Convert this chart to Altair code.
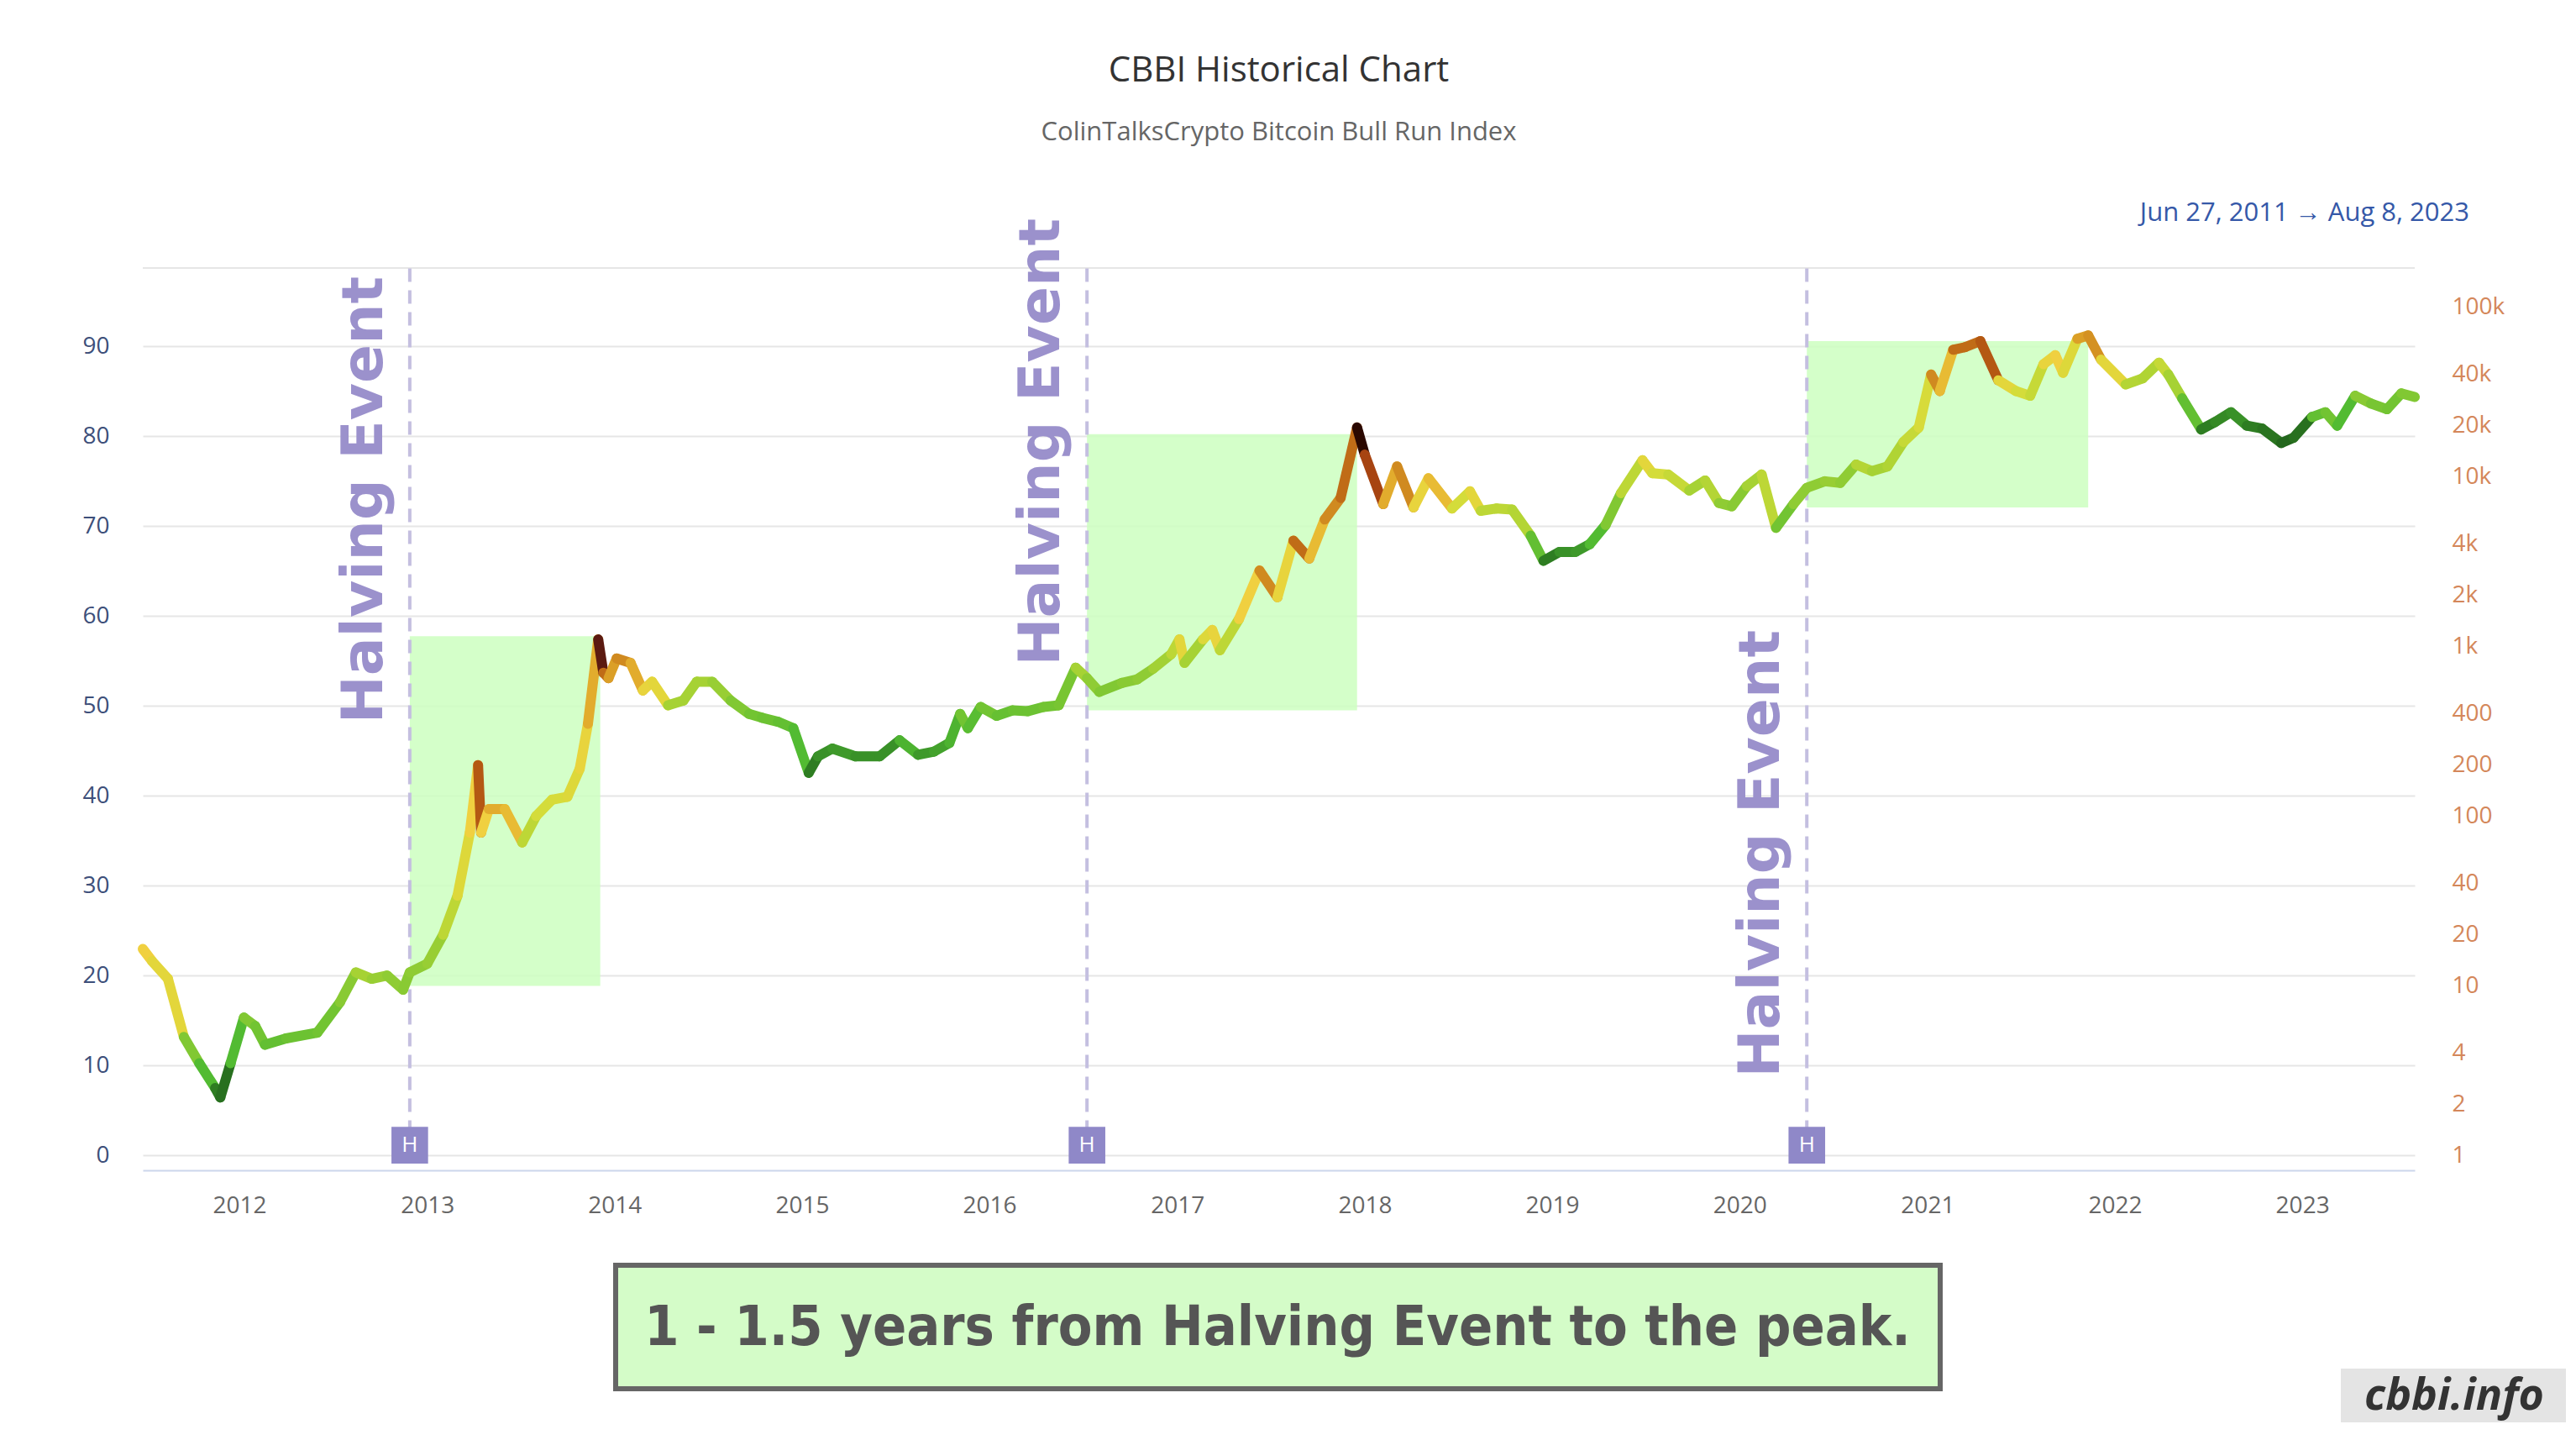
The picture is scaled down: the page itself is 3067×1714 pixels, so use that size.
import altair as alt
import pandas as pd

dates = ["2011-06-27","2011-07-15","2011-08-15","2011-09-15","2011-10-15","2011-11-15","2011-11-25","2011-12-15",
"2012-01-10","2012-02-01","2012-02-20","2012-04-01","2012-06-01","2012-07-15","2012-08-15","2012-09-15","2012-10-15","2012-11-15","2012-11-28",
"2013-01-01","2013-02-01","2013-03-01","2013-03-25","2013-04-10","2013-04-16","2013-05-01","2013-06-01","2013-07-05","2013-08-01","2013-09-01","2013-10-01","2013-10-25","2013-11-10","2013-11-30","2013-12-10","2013-12-20",
"2014-01-05","2014-02-01","2014-02-25","2014-03-15","2014-04-15","2014-05-15","2014-06-10","2014-07-10","2014-08-15","2014-09-20","2014-10-15","2014-11-15","2014-12-15",
"2015-01-14","2015-02-01","2015-03-01","2015-04-15","2015-06-01","2015-07-10","2015-08-15","2015-09-15","2015-10-15","2015-11-05","2015-11-20","2015-12-15",
"2016-01-15","2016-02-15","2016-03-15","2016-04-15","2016-05-15","2016-06-17","2016-07-09","2016-08-02","2016-09-15","2016-10-15","2016-11-15","2016-12-20",
"2017-01-05","2017-01-15","2017-02-20","2017-03-10","2017-03-25","2017-05-01","2017-06-10","2017-07-15","2017-08-15","2017-09-15","2017-10-15","2017-11-15","2017-12-17",
"2018-01-01","2018-02-06","2018-03-05","2018-04-06","2018-05-05","2018-06-20","2018-07-25","2018-08-15","2018-09-15","2018-10-15","2018-11-20","2018-12-15",
"2019-01-15","2019-02-15","2019-03-15","2019-04-15","2019-05-15","2019-06-26","2019-07-15","2019-08-15","2019-09-25","2019-10-26","2019-11-22","2019-12-17",
"2020-01-15","2020-02-13","2020-03-12","2020-04-15","2020-05-11","2020-06-15","2020-07-15","2020-08-15","2020-09-15","2020-10-15","2020-11-15","2020-12-15",
"2021-01-08","2021-01-25","2021-02-20","2021-03-15","2021-04-14","2021-05-19","2021-06-22","2021-07-20","2021-08-15","2021-09-07","2021-09-22","2021-10-20","2021-11-10","2021-12-05",
"2022-01-22","2022-02-24","2022-03-28","2022-04-15","2022-05-12","2022-06-18","2022-07-15","2022-08-15","2022-09-15","2022-10-15","2022-11-21","2022-12-15",
"2023-01-20","2023-02-15","2023-03-10","2023-04-14","2023-05-15","2023-06-15","2023-07-13","2023-08-08"]
prices = [16.5,14,11,5,3.5,2.5,2.2,3.5,
6.5,5.8,4.5,4.9,5.3,8,12,11,11.5,9.5,12,
13.5,20,34,80,200,80,110,110,70,100,125,130,190,350,1100,700,650,
850,800,550,620,450,480,620,620,480,400,380,360,330,
180,225,250,225,225,280,230,240,270,400,330,440,
390,420,415,440,450,750,650,540,610,640,740,900,
1100,800,1100,1250,950,1450,2800,1950,4200,3300,5600,7500,19500,
13500,6900,11500,6600,9800,6500,8200,6300,6500,6400,4500,3200,
3600,3600,4000,5200,8000,12500,10500,10300,8300,9500,7000,6700,
8800,10300,5000,6900,8600,9400,9200,11800,10800,11500,16000,19500,
40000,32000,56000,58000,63000,37000,32000,30000,46000,52000,41000,65000,68000,49000,
35000,38000,47000,40000,29000,19000,21000,24000,20000,19200,15800,17000,
22500,24000,20000,30000,27000,25000,31000,29500]
cbbi = [75,70,70,45,30,15,12,30,
45,40,35,38,40,48,55,52,50,48,50,
52,60,68,75,90,75,80,78,60,65,66,68,72,80,97,88,82,
85,80,72,70,55,55,55,52,45,40,38,35,30,
15,20,22,20,20,28,22,24,28,40,32,40,
36,38,38,40,42,55,50,45,48,50,54,60,
70,55,68,72,60,75,85,72,88,78,85,88,100,
92,80,85,72,78,65,70,60,60,58,35,15,
20,22,30,45,60,70,65,62,55,58,50,48,
55,60,40,50,50,52,50,58,55,57,62,66,
85,78,88,88,90,70,65,62,72,75,68,82,84,70,
58,57,62,55,35,15,18,20,15,13,10,12,
35,40,30,48,42,40,45,42]

halvings = ["2012-11-28", "2016-07-09", "2020-05-11"]
halving_text_x = ["2012-09-02", "2016-04-13", "2020-02-14"]
halving_text_y = [7300, 16000, 60]
box_start = ["2012-11-28", "2016-07-09", "2020-05-11"]
box_end = ["2013-12-04", "2017-12-17", "2021-11-10"]
box_low = [10, 420, 6600]
box_high = [1150, 17800, 63000]
right_ticks = [1,2,4,10,20,40,100,200,400,1000,2000,4000,10000,20000,40000,100000]
left_ticks = [0,10,20,30,40,50,60,70,80,90]

W, H = 2705, 1074
FONT = "Open Sans"
xdom = ["2011-06-27", "2023-08-08"]
ydom = [10 ** -0.087, 10 ** 5.23]

seg = pd.DataFrame({"d": dates, "p": prices, "c": cbbi})
seg["d2"] = seg["d"].shift(-1)
seg["p2"] = seg["p"].shift(-1)
seg = seg.dropna()

xaxis = alt.Axis(format="%Y", tickCount={"interval": "year", "step": 1}, grid=False,
                 ticks=False, domainColor="#ccd6eb", domainWidth=2, labelFontSize=28,
                 labelColor="#666666", labelFont=FONT, labelPadding=28, title=None)
X = alt.X("d:T", scale=alt.Scale(domain=xdom), axis=xaxis)
ysc = alt.Scale(type="log", domain=ydom, nice=False)
yaxis = alt.Axis(orient="right", values=right_ticks, domain=False, ticks=False, grid=False,
                 labelFontSize=28, labelColor="#d4875a", labelFont=FONT, labelPadding=44,
                 labelExpr="datum.value >= 1000 ? (datum.value/1000) + 'k' : datum.value",
                 title=None)
Y = alt.Y("p:Q", scale=ysc, axis=yaxis)
noview = alt.ViewBackground(stroke="transparent", strokeWidth=0)

cdf = pd.DataFrame({"d": ["2015-01-01"], "v": [0]})
left = alt.Chart(cdf).mark_rule(opacity=0).encode(
    x=X,
    y=alt.Y("v:Q", scale=alt.Scale(domain=[-1.65, 98.7], nice=False),
            axis=alt.Axis(values=left_ticks, orient="left", domain=False, ticks=False,
                          gridColor="#e6e6e6", gridWidth=2, labelFontSize=28, labelColor="#3d4f7a",
                          labelFont=FONT, labelPadding=40, title=None)))
topline = alt.Chart(cdf).mark_rule(color="#e6e6e6", strokeWidth=2).encode(
    x=alt.value(0), x2=alt.value(W), y=alt.value(0))

rects = alt.Chart(pd.DataFrame({"d": box_start, "d2": box_end, "p": box_low, "p2": box_high})).mark_rect(
    color="#ccffc0", opacity=0.85).encode(x=X, x2="d2:T", y=Y, y2="p2:Q")

hl = alt.Chart(pd.DataFrame({"d": halvings, "p": [1.0, 1.0, 1.0]})).mark_rule(
    color="#c4bfe0", strokeWidth=4, strokeDash=[16, 10]).encode(x=X, y=Y, y2=alt.value(0))

segs = alt.Chart(seg).mark_rule(strokeWidth=12, strokeCap="round").encode(
    x=X, x2="d2:T", y=Y, y2="p2:Q",
    color=alt.Color("c:Q", legend=None, scale=alt.Scale(
        domain=[0, 15, 30, 50, 65, 75, 85, 93, 100],
        range=["#123d12", "#2e7d22", "#52bb32", "#8fcc34", "#d4dc3a", "#f0d040", "#d08a20", "#a03a10", "#2a0800"])))

tdf = pd.DataFrame({"d": halving_text_x, "p": halving_text_y})
htext = alt.Chart(tdf).mark_text(text="Halving Event", angle=270, fontSize=68, fontWeight="bold",
                                 font="DejaVu Sans", color="#9b91cc", baseline="middle").encode(x=X, y=Y)

hdf = pd.DataFrame({"d": halvings, "p": [1.15] * 3})
hsq = alt.Chart(hdf).mark_square(size=1900, color="#8f88c8", opacity=1).encode(x=X, y=Y)
htx = alt.Chart(hdf).mark_text(text="H", color="white", fontSize=26, font=FONT, baseline="middle").encode(x=X, y=Y)

one = pd.DataFrame({"a": [0]})
def txt(t, x, y, **kw):
    return alt.Chart(one).mark_text(text=t, **kw).encode(x=alt.value(x), y=alt.value(y))

title = txt("CBBI Historical Chart", W / 2, -235, fontSize=42, font=FONT, color="#333333", baseline="middle")
sub = txt("ColinTalksCrypto Bitcoin Bull Run Index", W / 2, -161, fontSize=31, font=FONT, color="#666666", baseline="middle")
rng = txt("Jun 27, 2011   →   Aug 8, 2023", 2770, -65, fontSize=31, font=FONT, color="#3558a8", align="right", baseline="middle")

box = alt.Chart(one).mark_rect(fill="#d4fcc8", stroke="#666666", strokeWidth=6).encode(
    x=alt.value(563), x2=alt.value(2140), y=alt.value(1187), y2=alt.value(1334))
boxt = txt("1 - 1.5 years from Halving Event to the peak.", 1351, 1262, fontSize=66, fontWeight="bold",
           font="DejaVu Sans Condensed", color="#555555", baseline="middle")
wm = alt.Chart(one).mark_rect(fill="#e4e4e4").encode(
    x=alt.value(2617), x2=alt.value(2900), y=alt.value(1310), y2=alt.value(1400))
wmt = txt("cbbi.info", 2752, 1343, fontSize=52, font=FONT, fontStyle="italic", fontWeight="bold",
          color="#333333", baseline="middle")

price = alt.layer(rects, hl, segs, htext, hsq, htx, title, sub, rng, box, boxt, wm, wmt).properties(view=noview)
chart = alt.layer(topline, left, price).resolve_scale(y="independent").properties(
    width=W, height=H, autosize=alt.AutoSizeParams(type="none"), view=noview,
    padding={"left": 162, "top": 311, "right": 180, "bottom": 300}
).configure_view(strokeWidth=0, stroke="transparent").configure(background="white")

chart.save("out.html", embed_options={"renderer": "svg", "actions": False})
